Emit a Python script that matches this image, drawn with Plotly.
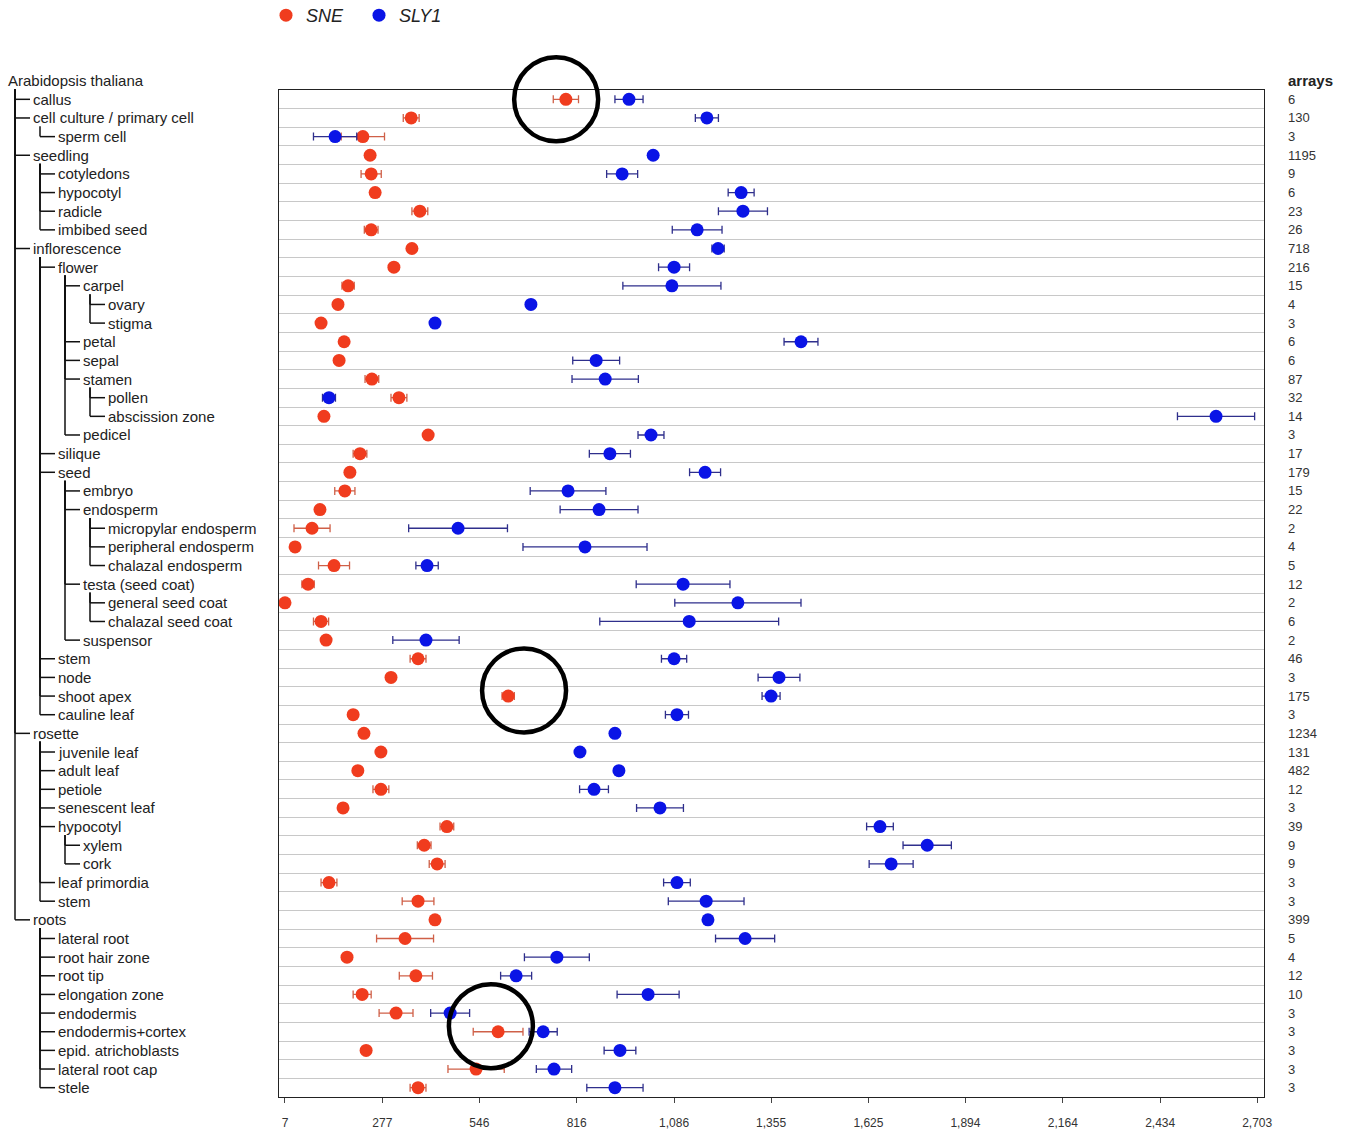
import plotly.graph_objects as go

# Tissue hierarchy (label, depth) and number of arrays per tissue
tissues = [
    "callus", "cell culture / primary cell", "sperm cell", "seedling", "cotyledons",
    "hypocotyl", "radicle", "imbibed seed", "inflorescence", "flower", "carpel",
    "ovary", "stigma", "petal", "sepal", "stamen", "pollen", "abscission zone",
    "pedicel", "silique", "seed", "embryo", "endosperm", "micropylar endosperm",
    "peripheral endosperm", "chalazal endosperm", "testa (seed coat)",
    "general seed coat", "chalazal seed coat", "suspensor", "stem", "node",
    "shoot apex", "cauline leaf", "rosette", "juvenile leaf", "adult leaf",
    "petiole", "senescent leaf", "hypocotyl", "xylem", "cork", "leaf primordia",
    "stem", "roots", "lateral root", "root hair zone", "root tip",
    "elongation zone", "endodermis", "endodermis+cortex", "epid. atrichoblasts",
    "lateral root cap", "stele",
]
depths = [
    1, 1, 2, 1, 2, 2, 2, 2, 1, 2, 3, 4, 4, 3, 3, 3, 4, 4, 3, 2, 2, 3, 3, 4, 4, 4,
    3, 4, 4, 3, 2, 2, 2, 2, 1, 2, 2, 2, 2, 2, 3, 3, 2, 2, 1, 2, 2, 2, 2, 2, 2, 2,
    2, 2,
]
arrays = [
    6, 130, 3, 1195, 9, 6, 23, 26, 718, 216, 15, 4, 3, 6, 6, 87, 32, 14, 3, 17,
    179, 15, 22, 2, 4, 5, 12, 2, 6, 2, 46, 3, 175, 3, 1234, 131, 482, 12, 3, 39,
    9, 9, 3, 3, 399, 5, 4, 12, 10, 3, 3, 3, 3, 3,
]

# Expression level (mean) and standard error
sne_mean = [
    786, 357, 223, 243, 246, 257, 381, 246, 359, 309, 182, 154, 107, 171, 157,
    248, 323, 115, 404, 215, 187, 173, 104, 82, 35, 143, 71, 7, 107, 121, 376,
    301, 626, 196, 226, 273, 209, 273, 168, 456, 393, 429, 129, 376, 423, 340,
    179, 370, 221, 315, 598, 232, 537, 376,
]
sne_err = [
    35, 22, 60, 8, 28, 8, 22, 19, 8, 8, 17, 8, 8, 8, 8, 19, 22, 8, 8, 19, 8, 28,
    8, 50, 8, 43, 17, 8, 21, 8, 22, 8, 17, 8, 8, 8, 8, 22, 8, 19, 19, 22, 22, 44,
    8, 79, 8, 46, 25, 47, 69, 8, 78, 22,
]
sly_mean = [
    961, 1177, 146, 1028, 942, 1272, 1277, 1150, 1208, 1086, 1080, 689, 423,
    1438, 870, 895, 129, 2589, 1022, 908, 1172, 792, 878, 487, 839, 401, 1111,
    1263, 1128, 398, 1086, 1377, 1355, 1094, 922, 825, 933, 864, 1047, 1657,
    1788, 1688, 1094, 1175, 1180, 1283, 761, 648, 1014, 465, 723, 936, 753, 922,
]
sly_err = [
    39, 32, 60, 8, 43, 36, 68, 69, 17, 43, 136, 8, 8, 47, 65, 92, 18, 107, 36,
    57, 43, 105, 108, 137, 172, 31, 130, 175, 248, 92, 35, 58, 25, 32, 8, 8, 8,
    40, 65, 37, 67, 61, 37, 105, 8, 82, 90, 43, 86, 54, 39, 44, 49, 78,
]

x_ticks = [7, 277, 546, 816, 1086, 1355, 1625, 1894, 2164, 2434, 2703]
x_tick_text = ["7", "277", "546", "816", "1,086", "1,355", "1,625", "1,894",
               "2,164", "2,434", "2,703"]

# Highlight rings: (x value, row position)
highlights = [(759, 0.0), (670, 31.7), (578, 49.7)]

W, H = 1347, 1132
ML, MR, MT, MB = 279, 83, 90, 35
PW, PH = W - ML - MR, H - MT - MB
X_RANGE = [-9.6, 2722]
n = len(tissues)
rows = list(range(n))


def px_x(p):
    return (p - ML) / PW


def row_y(r):
    return 1 - (r + 0.5) / n


def val_x(v):
    return (v - X_RANGE[0]) / (X_RANGE[1] - X_RANGE[0])


fig = go.Figure()
fig.add_trace(go.Scatter(
    x=sne_mean, y=rows, mode="markers", name="<i>SNE</i>",
    marker=dict(color="#f03c1e", size=13, line=dict(width=0)),
    error_x=dict(type="data", array=sne_err, color="#cf6048", thickness=1.3, width=4),
))
fig.add_trace(go.Scatter(
    x=sly_mean, y=rows, mode="markers", name="<i>SLY1</i>",
    marker=dict(color="#0a14e6", size=13, line=dict(width=0)),
    error_x=dict(type="data", array=sly_err, color="#2f2f8c", thickness=1.3, width=4),
))

annotations = []
shapes = []
txt_font = dict(family="Liberation Sans, Arial", size=15, color="#222222")

# Root label
annotations.append(dict(x=px_x(6), y=row_y(-1), xref="paper", yref="paper",
                        text="Arabidopsis thaliana", showarrow=False,
                        xanchor="left", yanchor="middle", font=txt_font))

line_style = dict(color="#111111", width=1.5)
row_h = 1 / n
for i, (lab, d) in enumerate(zip(tissues, depths)):
    cx = 15 + 25 * (d - 1)
    annotations.append(dict(x=px_x(cx + 16), y=row_y(i), xref="paper", yref="paper",
                            text=lab, showarrow=False, xanchor="left",
                            yanchor="middle", font=txt_font))
    # horizontal connector
    shapes.append(dict(type="line", xref="paper", yref="paper",
                       x0=px_x(cx), x1=px_x(cx + 15), y0=row_y(i), y1=row_y(i),
                       line=line_style))
    # vertical connector from parent
    p = i - 1
    while p >= 0 and depths[p] >= d:
        p -= 1
    top = row_y(p) - row_h * 0.45 if p >= 0 else row_y(-1) - row_h * 0.45
    shapes.append(dict(type="line", xref="paper", yref="paper",
                       x0=px_x(cx), x1=px_x(cx), y0=top, y1=row_y(i),
                       line=line_style))

# Arrays column
annotations.append(dict(x=px_x(1286), y=row_y(-1), xref="paper", yref="paper",
                        text="<b>arrays</b>", showarrow=False, xanchor="left",
                        yanchor="middle",
                        font=dict(family="Liberation Sans, Arial", size=15, color="#222222")))
for i, a in enumerate(arrays):
    annotations.append(dict(x=px_x(1286), y=row_y(i), xref="paper", yref="paper",
                            text=str(a), showarrow=False, xanchor="left",
                            yanchor="middle",
                            font=dict(family="Liberation Sans, Arial", size=13, color="#333333")))

# Highlight rings
R = 42
for hv, hr in highlights:
    cxp = val_x(hv)
    cyp = row_y(hr)
    shapes.append(dict(type="circle", xref="paper", yref="paper",
                       x0=cxp - R / PW, x1=cxp + R / PW,
                       y0=cyp - R / PH, y1=cyp + R / PH,
                       line=dict(color="black", width=4.5), layer="above"))

fig.update_layout(
    width=W, height=H,
    margin=dict(l=ML, r=MR, t=MT, b=MB, autoexpand=False),
    paper_bgcolor="white", plot_bgcolor="white",
    showlegend=True,
    legend=dict(orientation="h", x=px_x(266), y=1 + (MT + 3) / PH,
                xanchor="left", yanchor="top", entrywidth=48,
                font=dict(family="Liberation Sans, Arial", size=18, color="#222222"),
                bgcolor="rgba(0,0,0,0)"),
    annotations=annotations, shapes=shapes,
    xaxis=dict(range=X_RANGE, tickvals=x_ticks, ticktext=x_tick_text,
               showgrid=False, zeroline=False, showline=True, linecolor="#222222",
               linewidth=1, mirror=True, ticks="outside", ticklen=5,
               tickcolor="#444444", ticklabelstandoff=10, automargin=False,
               tickfont=dict(family="Liberation Sans, Arial", size=12, color="#333333")),
    yaxis=dict(range=[n - 0.5, -0.5], tick0=0.5, dtick=1, showticklabels=False,
               showgrid=True, gridcolor="#c8c8c8", gridwidth=1, zeroline=False,
               showline=True, linecolor="#222222", linewidth=1, mirror=True,
               ticks="", automargin=False),
)

fig.write_html("out.html")
